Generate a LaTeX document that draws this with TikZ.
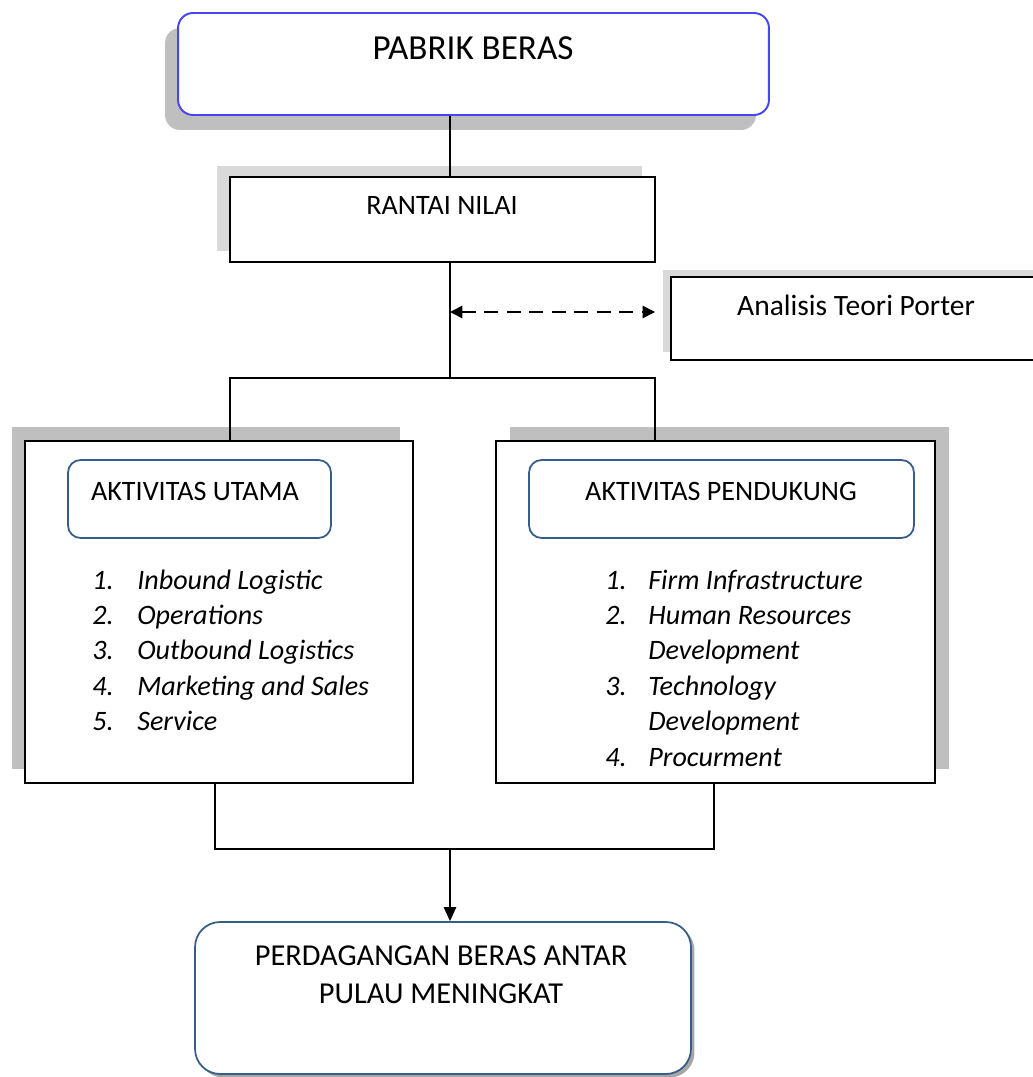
\documentclass[tikz,border=0pt]{standalone}
\usepackage{fontspec}
\setmainfont{Carlito}
\usetikzlibrary{arrows.meta,shadows}
\definecolor{frameblue}{RGB}{56,93,138}
\definecolor{topblue}{RGB}{70,70,240}

\begin{document}
\begin{tikzpicture}[x=0.02cm,y=-0.02cm,
    boxtext/.style={inner sep=0pt, font=\fontsize{16}{20.2}\selectfont},
    listtext/.style={inner sep=0pt, anchor=base west, font=\fontsize{16}{20.2}\selectfont\itshape},
    plainbox/.style={draw, line width=1pt, fill=white, inner sep=0pt},
    headbox/.style={draw=frameblue, line width=1pt, fill=white, rounded corners=0.25cm, inner sep=0pt},
    link/.style={line width=1pt}]
  \useasboundingbox (0,0) rectangle (1032,1077);

  % main boxes
  \node[draw=topblue, line width=1.1pt, fill=white, rounded corners=0.3cm, minimum width=11.82cm, minimum height=2.04cm,
        drop shadow={shadow xshift=-0.26cm, shadow yshift=-0.3cm, fill=black!25, opacity=1}] (pabrik) at (473.5,64) {};
  \node[boxtext, font=\fontsize{20}{24}\selectfont] (pabriktxt) at (473,48) {PABRIK BERAS};

  \node[plainbox, minimum width=8.5cm, minimum height=1.7cm,
        drop shadow={shadow xshift=-0.26cm, shadow yshift=0.22cm, fill=black!15, opacity=1}] (rantai) at (442.5,219.5) {};
  \node[boxtext] (rantaitxt) at (442,205) {RANTAI NILAI};

  \node[plainbox, minimum width=7.48cm, minimum height=1.66cm,
        drop shadow={shadow xshift=-0.17cm, shadow yshift=0.15cm, fill=black!15, opacity=1}] (porter) at (858,318.5) {};
  \node[boxtext, font=\fontsize{16.8}{20}\selectfont] (portertxt) at (856,305) {Analisis Teori Porter};

  % two activity blocks
  \node[plainbox, minimum width=7.76cm, minimum height=6.84cm,
        drop shadow={shadow xshift=-0.26cm, shadow yshift=0.28cm, fill=black!25, opacity=1}] (utama) at (219,612) {};
  \node[headbox, minimum width=5.26cm, minimum height=1.56cm] (utamahead) at (199.5,499) {};
  \node[boxtext] (utamatxt) at (195,491) {AKTIVITAS UTAMA};
  \node[listtext] (utamalist) at (92,589) {\begin{tabular}[t]{@{}p{0.9cm}@{}l@{}}
      1. & Inbound Logistic\\
      2. & Operations\\
      3. & Outbound Logistics\\
      4. & Marketing and Sales\\
      5. & Service
    \end{tabular}};

  \node[plainbox, minimum width=8.78cm, minimum height=6.84cm,
        drop shadow={shadow xshift=0.28cm, shadow yshift=0.28cm, fill=black!25, opacity=1}] (pendukung) at (715.5,612) {};
  \node[headbox, minimum width=7.7cm, minimum height=1.56cm] (pendukunghead) at (721.5,499) {};
  \node[boxtext] (pendukungtxt) at (721,491) {AKTIVITAS PENDUKUNG};
  \node[listtext] (pendukunglist) at (605,589) {\begin{tabular}[t]{@{}p{0.86cm}@{}l@{}}
      1. & Firm Infrastructure\\
      2. & Human Resources\\
         & Development\\
      3. & Technology\\
         & Development\\
      4. & Procurment
    \end{tabular}};

  % result
  \node[draw=frameblue, line width=1pt, fill=white, rounded corners=0.5cm, minimum width=9.92cm, minimum height=3.04cm,
        drop shadow={shadow xshift=0.07cm, shadow yshift=-0.07cm, fill=black!35, opacity=1}] (perdagangan) at (443,998) {};
  \node[boxtext, align=center, font=\fontsize{17.3}{21.5}\selectfont] (perdagangantxt) at (441,975) {PERDAGANGAN BERAS ANTAR\\PULAU MENINGKAT};

  % connectors
  \coordinate (trunk) at (450,0);
  \coordinate (lefttap) at (230,378);
  \coordinate (fork) at (450,378);
  \coordinate (righttap) at (655,378);
  \coordinate (dashend) at (655,312);
  \coordinate (leftdrop) at (215,849);
  \coordinate (join) at (450,849);
  \coordinate (rightdrop) at (714,849);

  \draw[link] (pabrik.south -| trunk) -- (rantai.north -| trunk);
  \draw[link] (rantai.south -| trunk) -- (fork);
  \draw[link] (utama.north -| lefttap) -- (lefttap) -- (righttap) -- (pendukung.north -| righttap);
  \draw[link, dash pattern=on 0.28cm off 0.17cm, {Triangle[length=7pt,width=7pt]}-{Triangle[length=7pt,width=7pt]}] (dashend -| trunk) -- (dashend);
  \draw[link] (utama.south -| leftdrop) -- (leftdrop) -- (rightdrop) -- (pendukung.south -| rightdrop);
  \draw[link, -{Triangle[length=8pt,width=7pt]}] (join) -- (perdagangan.north -| join);
\end{tikzpicture}
\end{document}
